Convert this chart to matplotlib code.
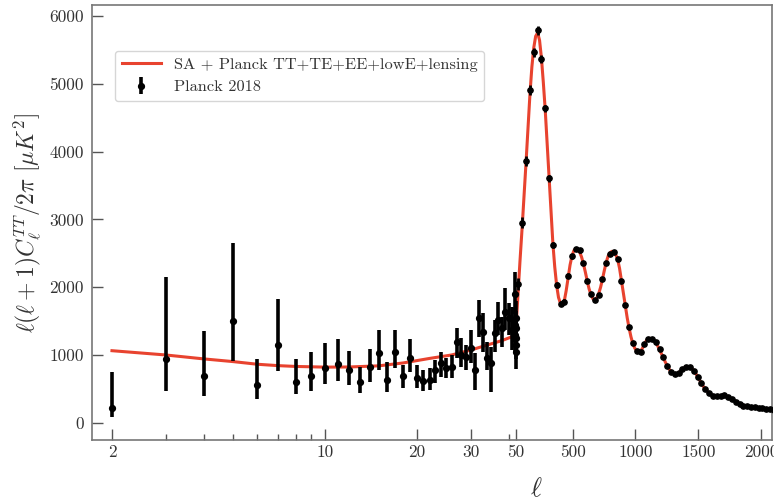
import numpy as np
import matplotlib
matplotlib.use("Agg")
import matplotlib.pyplot as plt

plt.rcParams['font.family'] = 'serif'
plt.rcParams['font.serif'] = ['cmr10', 'DejaVu Serif']
plt.rcParams['mathtext.fontset'] = 'cm'
plt.rcParams['axes.formatter.use_mathtext'] = True

# low-ell Planck points (value, lower end, upper end of bar)
low_ell = [2, 3, 4, 5, 6, 7, 8, 9, 10, 11, 12, 13, 14, 15, 16, 17, 18, 19, 20,
           21, 22, 23, 24, 25, 26, 27, 28, 29, 30, 31, 32, 33, 34, 35, 36, 37,
           38, 39, 40, 41, 42, 43, 44, 45, 46, 47, 48, 49]
low_D = [226, 940, 693, 1509, 561, 1151, 610, 698, 807, 866, 782, 609, 821, 1035,
         634, 1052, 693, 954, 669, 615, 634, 782, 880, 806, 821, 1200, 1003, 979,
         1102, 782, 1544, 1348, 954, 880, 1323, 1520, 1397, 1643, 1544, 1372,
         1450, 1900, 1300, 1550, 1150, 1050, 1400, 1250]
low_lo = [84, 477, 403, 919, 350, 767, 428, 477, 571, 625, 561, 438, 609, 782,
          462, 807, 521, 757, 512, 470, 487, 585, 684, 659, 659, 954, 831, 782,
          880, 487, 1274, 1052, 782, 462, 1052, 1298, 1126, 1372, 1298, 1077,
          1200, 1600, 1050, 1300, 950, 800, 1150, 1000]
low_hi = [757, 2158, 1362, 2660, 940, 1829, 940, 1043, 1176, 1240, 1067, 821,
          1092, 1372, 904, 1372, 856, 1235, 856, 782, 806, 929, 1052, 954, 1003,
          1397, 1249, 1151, 1372, 1028, 1815, 1618, 1200, 1126, 1520, 1790, 1569,
          1987, 1766, 1716, 1700, 2230, 1550, 1800, 1350, 1300, 1650, 1500]

# binned high-ell points
high_ell = [68, 99, 129, 160, 190, 221, 251, 281, 312, 342, 372, 403, 433, 464,
            494, 524, 555, 585, 615, 646, 676, 706, 737, 767, 797, 828, 858, 888,
            919, 949, 979, 1010, 1040, 1070, 1101, 1131, 1161, 1192, 1222, 1252,
            1283, 1313, 1343, 1374, 1404, 1434, 1465, 1495, 1525, 1556, 1586,
            1616, 1647, 1677, 1707, 1738, 1768, 1798, 1829, 1859, 1889, 1920,
            1950, 1980, 2011, 2041, 2071, 2102]
high_D = [2045, 2955, 3866, 4904, 5465, 5790, 5365, 4638, 3605, 2626, 2036, 1756,
          1790, 2173, 2454, 2563, 2543, 2356, 2095, 1899, 1815, 1889, 2120, 2356,
          2493, 2523, 2424, 2095, 1741, 1421, 1176, 1067, 1052, 1166, 1235, 1244,
          1190, 1087, 969, 845, 757, 723, 742, 792, 831, 822, 772, 683, 585, 497,
          438, 398, 394, 398, 408, 389, 354, 315, 280, 256, 251, 241, 231, 221,
          216, 211, 202, 198]
high_err = [90, 80, 75, 70, 65, 65, 60, 55, 50, 45, 40, 35, 35, 35, 35, 35, 35,
            30, 30, 30, 30, 30, 30, 30, 30, 30, 25, 25, 25, 25, 20, 20, 20, 20,
            20, 20, 20, 20, 20, 20, 15, 15, 15, 15, 15, 15, 15, 15, 15, 15, 15,
            15, 15, 15, 15, 15, 15, 15, 15, 15, 15, 15, 15, 15, 15, 15, 15, 15]

# best fit model curve
model_ell = [2, 3, 4, 5, 6, 7, 8, 10, 12, 15, 18, 20, 22, 26, 30, 34, 38, 42, 50,
             60, 68, 80, 99, 115, 129, 145, 160, 175, 190, 205, 221, 236, 251,
             266, 281, 296, 312, 327, 342, 357, 372, 387, 403, 418, 433, 448, 464,
             479, 494, 509, 524, 540, 555, 570, 585, 600, 615, 630, 646, 661, 676,
             691, 706, 722, 737, 752, 767, 782, 797, 812, 828, 843, 858, 873, 888,
             903, 919, 934, 949, 964, 979, 995, 1010, 1025, 1040, 1055, 1070, 1085,
             1101, 1116, 1131, 1146, 1161, 1177, 1192, 1207, 1222, 1237, 1252,
             1268, 1283, 1298, 1313, 1328, 1343, 1359, 1374, 1389, 1404, 1419,
             1434, 1450, 1465, 1480, 1495, 1510, 1525, 1540, 1556, 1586, 1616,
             1647, 1677, 1707, 1738, 1768, 1798, 1829, 1859, 1889, 1920, 1950,
             1980, 2011, 2041, 2071, 2102]
model_D = [1066, 1003, 945, 905, 866, 846, 834, 824, 826, 843, 885, 920, 952, 1003,
           1075, 1150, 1215, 1290, 1450, 1760, 2010, 2380, 2930, 3420, 3860, 4380,
           4860, 5250, 5530, 5700, 5750, 5640, 5380, 5020, 4620, 4130, 3600, 3120,
           2650, 2300, 2030, 1850, 1760, 1750, 1800, 1950, 2150, 2330, 2460, 2540,
           2570, 2560, 2520, 2450, 2350, 2230, 2100, 1980, 1890, 1830, 1815, 1840,
           1900, 2000, 2120, 2250, 2370, 2460, 2510, 2530, 2520, 2480, 2410, 2280,
           2100, 1910, 1720, 1550, 1400, 1270, 1170, 1100, 1065, 1050, 1060, 1100,
           1160, 1210, 1240, 1248, 1240, 1220, 1185, 1135, 1080, 1020, 960, 900,
           845, 795, 755, 730, 722, 728, 742, 765, 790, 812, 828, 830, 820, 800,
           770, 730, 685, 635, 585, 540, 500, 440, 405, 395, 398, 402, 388, 355,
           318, 285, 260, 248, 240, 230, 222, 215, 208, 202, 197]

xticks = [2, 10, 20, 30, 50, 500, 1000, 1500, 2000]
xminor = [3, 4, 5, 6, 7, 8, 9, 40]
yticks = [0, 1000, 2000, 3000, 4000, 5000, 6000]

# hybrid axis: log up to l=42, linear above
BREAK = 42
DEC = 305.0
LIN = 0.1256
UB = DEC * np.log10(BREAK / 2)


def fwd(l):
    l = np.clip(np.asarray(l, dtype=float), 1e-3, None)
    return np.where(l <= BREAK, DEC * np.log10(l / 2), UB + (l - BREAK) * LIN)


def inv(u):
    u = np.asarray(u, dtype=float)
    return np.where(u <= UB, 2 * 10 ** (np.minimum(u, UB) / DEC),
                    BREAK + (u - UB) / LIN)


fig = plt.figure(figsize=(7.74, 5.04), dpi=100)
ax = fig.add_axes([92 / 774, 64 / 504, 680 / 774, 435 / 504])
ax.set_xscale('function', functions=(fwd, inv))

red = '#e8432f'
ax.plot(model_ell, model_D, color=red, lw=2.2, zorder=2,
        label='SA + Planck TT+TE+EE+lowE+lensing')

low_D = np.array(low_D)
yerr_low = [low_D - np.array(low_lo), np.array(low_hi) - low_D]
ax.errorbar(low_ell, low_D, yerr=yerr_low, fmt='o', color='black', ms=4.2,
            elinewidth=2.6, capsize=0, zorder=3, label='Planck 2018')
ax.errorbar(high_ell, high_D, yerr=high_err, fmt='o', color='black', ms=3.8,
            elinewidth=2.0, capsize=0, zorder=3)

ax.set_xlim(1.72, 2087)
ax.set_ylim(-250, 6160)

ax.set_xticks(xticks)
ax.set_xticklabels([str(t) for t in xticks])
ax.set_xticks(xminor, minor=True)
ax.set_xticklabels([], minor=True)
ax.set_yticks(yticks)
ax.set_yticklabels([str(t) for t in yticks])

ax.tick_params(which='both', direction='in', color='#555555',
               labelcolor='#333333', labelsize=12.5, top=False, right=False)
ax.tick_params(which='major', length=8, width=1)
ax.tick_params(which='minor', length=4, width=1)
ax.tick_params(axis='y', pad=6)
for s in ax.spines.values():
    s.set_color('#777777')
    s.set_linewidth(1.2)

ax.set_ylabel(r'$\ell(\ell+1)C_\ell^{TT}/2\pi\ [\mu K^2]$', fontsize=17,
              color='#333333')
ax.set_xlabel(r'$\ell$', fontsize=19, color='#333333')
ax.xaxis.set_label_coords(0.653, -0.085)

leg = ax.legend(loc='upper left', bbox_to_anchor=(0.034, 0.895),
                borderaxespad=0, fontsize=11.8, frameon=True, fancybox=True,
                handlelength=2.4)
leg.get_frame().set_edgecolor('#cccccc')
for t in leg.get_texts():
    t.set_color('#333333')

fig.savefig('out.png', dpi=100)
